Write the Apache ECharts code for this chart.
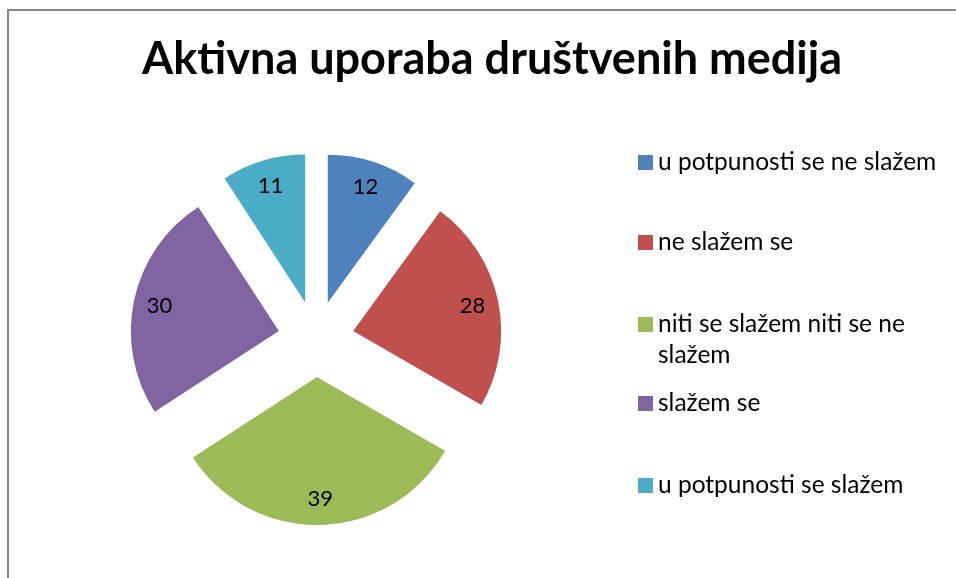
<!DOCTYPE html>
<html>
<head>
<meta charset="utf-8">
<script src="https://cdn.jsdelivr.net/npm/echarts@6/dist/echarts.min.js"></script>
<style>
  html, body { margin: 0; padding: 0; background: #fff; }
  #chart { width: 956px; height: 578px; }
</style>
</head>
<body>
<div id="chart"></div>
<script>
const categories = [
  'u potpunosti se ne slažem',
  'ne slažem se',
  'niti se slažem niti se ne slažem',
  'slažem se',
  'u potpunosti se slažem',
]
const values = [12, 28, 39, 30, 11]
const colors = ['#4f81bd', '#c0504d', '#9bbb59', '#8064a2', '#4bacc6']

const FONT = 'Lato, "Noto Sans", sans-serif'
const CENTER = [316, 339]
const RADIUS = 148
const OFFSET = 38
const LINE_H = 31
const WRAPPED = 'niti se slažem niti se ne slažem'
// vertical centre of each legend square
const legendCenters = [162.5, 242.5, 324.5, 403.5, 485.5]

function pieData(withColor) {
  return categories.map((name, i) => ({
    name,
    value: values[i],
    selected: true,
    itemStyle: withColor ? { color: colors[i] } : { color: 'rgba(0,0,0,0)' },
  }))
}

function buildLegends() {
  return categories.map((name, i) => {
    const wrapped = name === WRAPPED
    return {
      data: [name],
      left: 638,
      // the wrapped entry gets an empty first line so its text starts level with the square
      top: wrapped ? legendCenters[i] - 1.5 * LINE_H : legendCenters[i] - LINE_H / 2,
      padding: 0,
      icon: 'rect',
      itemWidth: 15,
      itemHeight: 15,
      selectedMode: false,
      formatter: (n) => (n === WRAPPED ? '\nniti se slažem niti se ne\nslažem' : n),
      textStyle: {
        fontFamily: FONT,
        fontSize: 24.5,
        lineHeight: LINE_H,
        color: '#000',
      },
    }
  })
}

const chart = echarts.init(document.getElementById('chart'), null, { renderer: 'canvas' })

chart.setOption({
  animation: false,
  backgroundColor: '#fff',
  title: {
    text: 'Aktivna uporaba društvenih medija',
    left: 487,
    textAlign: 'center',
    top: 32,
    textStyle: {
      fontFamily: FONT,
      fontWeight: 'bold',
      fontSize: 45,
      color: '#000',
    },
  },
  graphic: [
    {
      type: 'rect',
      silent: true,
      shape: { x: 8, y: 10, width: 1200, height: 1200 },
      style: { fill: 'none', stroke: '#878787', lineWidth: 2 },
    },
  ],
  legend: buildLegends(),
  series: [
    {
      name: 'slices',
      type: 'pie',
      center: CENTER,
      radius: [0, RADIUS],
      startAngle: 90,
      clockwise: true,
      selectedMode: 'multiple',
      selectedOffset: OFFSET,
      emphasis: { disabled: true },
      label: { show: false },
      labelLine: { show: false },
      data: pieData(true),
    },
    {
      // invisible ring used only to place the value labels near the rim
      name: 'labels',
      type: 'pie',
      silent: true,
      center: CENTER,
      radius: [90, RADIUS],
      startAngle: 90,
      clockwise: true,
      selectedMode: 'multiple',
      selectedOffset: OFFSET,
      emphasis: { disabled: true },
      label: {
        show: true,
        position: 'inside',
        formatter: '{c}',
        fontFamily: FONT,
        fontSize: 22,
        color: '#000',
      },
      labelLine: { show: false },
      data: pieData(false),
    },
  ],
})
</script>
</body>
</html>
